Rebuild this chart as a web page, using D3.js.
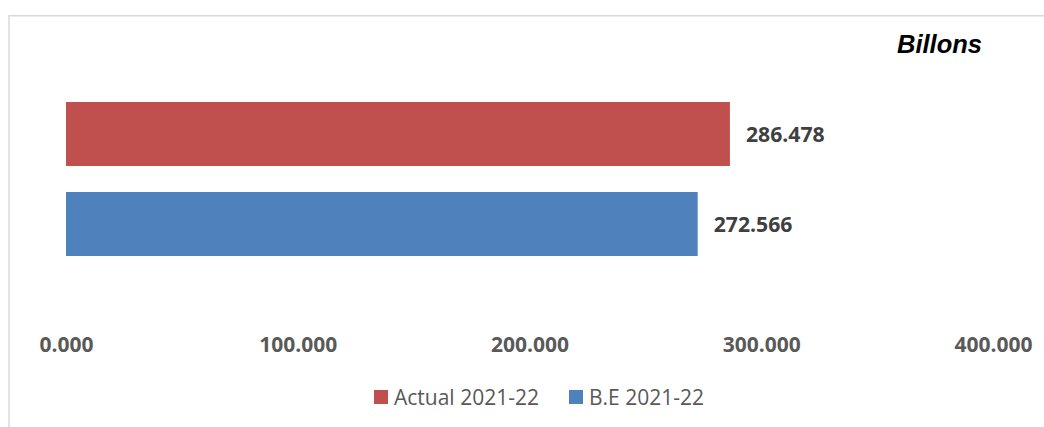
<!DOCTYPE html>
<html>
<head>
<meta charset="utf-8">
<script src="https://cdn.jsdelivr.net/npm/d3@7"></script>
<style>
  html, body { margin: 0; padding: 0; background: #fff; }
  svg { display: block; }
</style>
</head>
<body>
<svg id="chart" width="1044" height="427"></svg>
<script>
// Series shown as horizontal bars, top to bottom
const seriesNames = ["Actual 2021-22", "B.E 2021-22"];
const seriesValues = [286.478, 272.566];
const seriesColors = ["#C0504D", "#4F81BD"];
const tickValues = [0, 100, 200, 300, 400];
const unitLabel = "Billons";

const svg = d3.select("#chart");
const W = 1044, H = 427;

// Chart frame (light gray border along top and left)
svg.append("path")
  .attr("d", `M9,${H} L9,15.75 L${W},15.75`)
  .attr("fill", "none")
  .attr("stroke", "#d9d9d9")
  .attr("stroke-width", 1.5);

const x = d3.scaleLinear().domain([0, 400]).range([66, 993]);
const y = d3.scaleBand()
  .domain(seriesNames)
  .range([102, 256])
  .paddingInner(26 / 90)
  .paddingOuter(0);

// Bars
svg.append("g").selectAll("rect")
  .data(seriesNames)
  .join("rect")
  .attr("x", x(0))
  .attr("y", d => y(d))
  .attr("width", (d, i) => x(seriesValues[i]) - x(0))
  .attr("height", y.bandwidth())
  .attr("fill", (d, i) => seriesColors[i]);

// Value labels
svg.append("g").selectAll("text")
  .data(seriesNames)
  .join("text")
  .attr("x", (d, i) => x(seriesValues[i]) + 16)
  .attr("y", d => y(d) + y.bandwidth() / 2)
  .attr("dy", "0.36em")
  .attr("font-family", "'Open Sans', sans-serif")
  .attr("font-weight", 700)
  .attr("font-size", 21.2)
  .attr("fill", "#404040")
  .text((d, i) => d3.format(".3f")(seriesValues[i]));

// Value axis labels (no axis line or ticks)
const axis = d3.axisBottom(x)
  .tickValues(tickValues)
  .tickFormat(d3.format(".3f"))
  .tickSize(0)
  .tickPadding(0);
const axisG = svg.append("g")
  .attr("transform", "translate(0,337)")
  .call(axis);
axisG.select(".domain").remove();
axisG.selectAll("text")
  .attr("dy", "0.71em")
  .attr("font-family", "'Open Sans', sans-serif")
  .attr("font-weight", 700)
  .attr("font-size", 21)
  .attr("fill", "#595959");

// Unit label
svg.append("text")
  .attr("x", 982)
  .attr("y", 53)
  .attr("text-anchor", "end")
  .attr("font-family", "'Liberation Sans', Arial, sans-serif")
  .attr("font-weight", 700)
  .attr("font-style", "italic")
  .attr("font-size", 25.5)
  .attr("fill", "#000")
  .text(unitLabel);

// Legend
const legendX = [374, 569];
const legend = svg.append("g").selectAll("g")
  .data(seriesNames)
  .join("g")
  .attr("transform", (d, i) => `translate(${legendX[i]},390)`);
legend.append("rect")
  .attr("width", 14)
  .attr("height", 14)
  .attr("fill", (d, i) => seriesColors[i]);
legend.append("text")
  .attr("x", 20)
  .attr("y", 7)
  .attr("dy", "0.36em")
  .attr("font-family", "'Open Sans', sans-serif")
  .attr("font-size", 21)
  .attr("fill", "#595959")
  .text(d => d);
</script>
</body>
</html>
